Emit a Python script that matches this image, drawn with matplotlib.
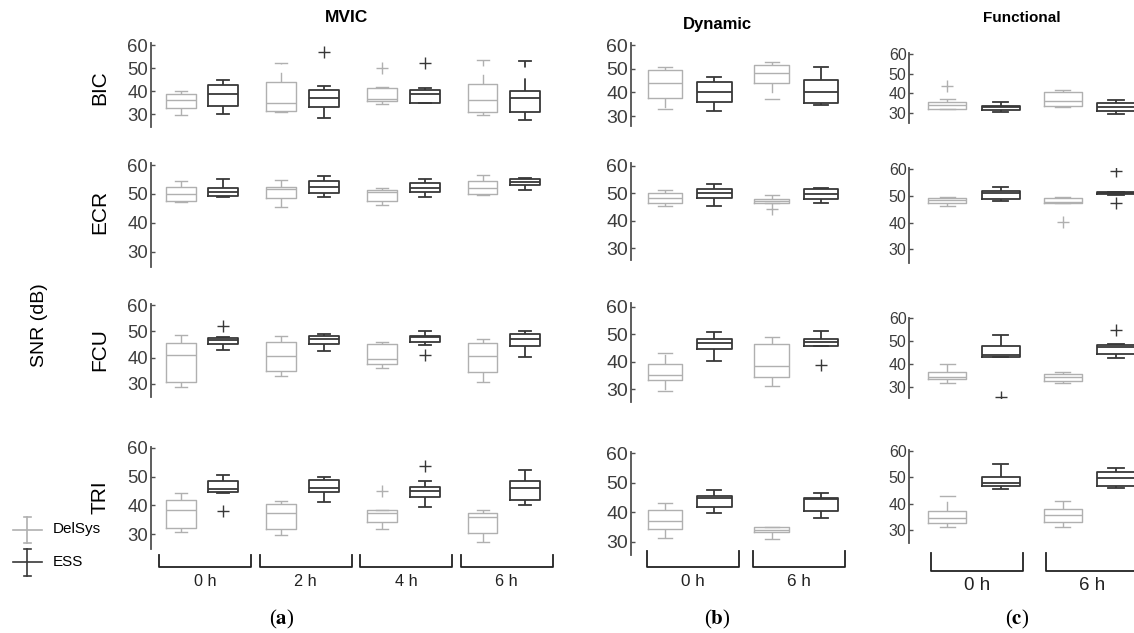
import matplotlib
matplotlib.use("Agg")
import matplotlib.pyplot as plt
from matplotlib.lines import Line2D
from matplotlib.transforms import blended_transform_factory

W, H, DPI = 1134, 633, 100
plt.rcParams['font.family'] = ['Liberation Sans', 'DejaVu Sans']
plt.rcParams['mathtext.fontset'] = 'stix'

# ---------------- data ----------------
muscles = ["BIC", "ECR", "FCU", "TRI"]
devices = ["DelSys", "ESS"]
mvic_times = ["0 h", "2 h", "4 h", "6 h"]
dyn_times = ["0 h", "6 h"]
fun_times = ["0 h", "6 h"]
column_titles = ["MVIC", "Dynamic", "Functional"]
panel_tags = ["a", "b", "c"]
yticks = [30, 40, 50, 60]
ylabel = "SNR (dB)"

# each box: (lower whisker, Q1, median, Q3, upper whisker, [outliers]); one box per time point
mvic_bic_delsys = [(29.9, 32.6, 36.4, 38.6, 40.0, []), (30.9, 31.6, 35.0, 43.9, 52.4, []),
                   (34.4, 35.7, 36.6, 41.4, 41.7, [50.2]), (29.9, 30.8, 36.1, 43.3, 53.4, [])]
mvic_bic_ess = [(30.3, 33.7, 39.0, 42.5, 44.8, []), (28.3, 33.2, 37.1, 40.4, 42.3, [57.0]),
                (34.7, 34.7, 38.6, 40.4, 41.4, [52.4]), (27.5, 30.8, 37.1, 40.2, 53.1, [])]
mvic_ecr_delsys = [(47.3, 47.7, 50.0, 52.3, 54.6, []), (45.4, 48.5, 51.7, 52.3, 54.7, []),
                   (46.2, 47.7, 50.5, 51.2, 52.0, []), (49.7, 49.9, 52.0, 54.6, 56.7, [])]
mvic_ecr_ess = [(49.0, 49.3, 50.6, 52.0, 55.1, []), (48.8, 50.2, 52.5, 54.6, 56.2, []),
                (48.8, 50.5, 52.0, 53.9, 55.1, []), (51.5, 53.0, 54.0, 55.0, 55.6, [])]
mvic_fcu_delsys = [(28.7, 30.6, 41.1, 45.7, 48.7, []), (33.0, 35.1, 40.8, 46.1, 48.4, []),
                   (36.1, 37.7, 39.4, 45.3, 45.9, []), (30.6, 34.7, 40.8, 45.6, 47.1, [])]
mvic_fcu_ess = [(43.0, 45.2, 46.8, 47.5, 47.7, [51.9]), (42.7, 45.2, 47.2, 48.4, 49.0, []),
                (44.8, 46.1, 48.0, 48.4, 50.3, [41.1]), (40.3, 44.6, 47.1, 48.8, 50.0, [])]
mvic_tri_delsys = [(30.9, 32.1, 38.4, 41.9, 44.2, []), (29.8, 31.9, 37.3, 40.4, 41.5, []),
                   (31.9, 34.2, 37.3, 38.4, 38.4, [45.1]), (27.2, 30.6, 36.1, 37.3, 38.4, [])]
mvic_tri_ess = [(44.2, 44.5, 45.7, 48.5, 50.4, [37.9]), (41.1, 44.5, 46.2, 48.8, 50.0, []),
                (39.6, 43.0, 45.0, 46.5, 48.5, [53.7]), (40.0, 42.0, 46.0, 48.5, 52.4, [])]

dyn_bic_delsys = [(33.0, 37.5, 44.1, 49.4, 50.6, []), (37.0, 44.1, 48.0, 51.5, 53.0, [])]
dyn_bic_ess = [(32.1, 36.1, 40.1, 44.5, 46.5, []), (34.5, 35.5, 40.1, 45.2, 50.9, [])]
dyn_ecr_delsys = [(45.5, 46.4, 48.2, 50.0, 51.3, []), (46.4, 46.4, 47.2, 47.8, 49.5, [44.2])]
dyn_ecr_ess = [(45.5, 48.2, 50.0, 51.7, 53.4, []), (46.4, 48.1, 49.9, 51.6, 52.0, [])]
dyn_fcu_delsys = [(29.5, 33.4, 35.2, 39.1, 43.1, []), (31.2, 34.4, 38.5, 46.5, 48.9, [])]
dyn_fcu_ess = [(40.3, 44.5, 46.9, 48.1, 50.9, []), (45.8, 45.8, 47.3, 48.4, 51.0, [38.8])]
dyn_tri_delsys = [(31.2, 34.4, 37.0, 40.7, 43.2, []), (30.8, 33.2, 34.0, 34.9, 35.1, [])]
dyn_tri_ess = [(39.6, 41.9, 44.7, 45.6, 47.5, []), (37.9, 40.5, 44.5, 44.7, 46.4, [])]

fun_bic_delsys = [(31.9, 31.9, 33.9, 35.6, 36.8, [43.6]), (32.7, 33.4, 36.0, 40.8, 41.6, [])]
fun_bic_ess = [(30.5, 31.4, 32.7, 33.6, 35.6, []), (29.3, 30.9, 32.7, 34.8, 36.5, [])]
fun_ecr_delsys = [(46.25, 47.25, 48.5, 49.4, 49.75, []), (47.25, 47.25, 47.9, 49.1, 49.75, [40.4])]
fun_ecr_ess = [(48.25, 48.75, 51.0, 52.0, 53.5, []), (50.4, 50.75, 51.0, 51.6, 51.6, [59.5, 47.25])]
fun_fcu_delsys = [(32.0, 33.5, 34.6, 36.5, 40.1, []), (32.0, 32.8, 34.3, 35.8, 36.8, [])]
fun_fcu_ess = [(43.0, 43.0, 44.1, 48.1, 52.8, [25.9]), (42.6, 44.5, 47.4, 48.4, 48.8, [54.9])]
fun_tri_delsys = [(31.0, 32.8, 34.4, 37.3, 43.0, []), (31.0, 33.1, 35.7, 37.9, 41.1, [])]
fun_tri_ess = [(45.4, 46.6, 47.9, 50.2, 54.8, []), (45.8, 46.6, 49.5, 51.8, 53.6, [])]

mvic_data = [(mvic_bic_delsys, mvic_bic_ess), (mvic_ecr_delsys, mvic_ecr_ess),
             (mvic_fcu_delsys, mvic_fcu_ess), (mvic_tri_delsys, mvic_tri_ess)]
dyn_data = [(dyn_bic_delsys, dyn_bic_ess), (dyn_ecr_delsys, dyn_ecr_ess),
            (dyn_fcu_delsys, dyn_fcu_ess), (dyn_tri_delsys, dyn_tri_ess)]
fun_data = [(fun_bic_delsys, fun_bic_ess), (fun_ecr_delsys, fun_ecr_ess),
            (fun_fcu_delsys, fun_fcu_ess), (fun_tri_delsys, fun_tri_ess)]

# ---------------- layout (pixels) ----------------
# per column: spine x, first group center, group spacing, pair offset, box width, right edge
col_layout = [
    dict(spine=150.7, g0=202.0, step=100.6, off=21.3, bw=30.0, right=560, tick_fs=13.3,
         brk=(555, 567), lab_y=582, lab_fs=11.7, tag_x=282, title_x=346, title_y=18, title_fs=12.5),
    dict(spine=631.0, g0=689.7, step=106.7, off=24.6, bw=34.7, right=860, tick_fs=14.0,
         brk=(551, 567), lab_y=582, lab_fs=12.3, tag_x=717, title_x=717, title_y=25, title_fs=12),
    dict(spine=909.3, g0=974.0, step=115.2, off=26.7, bw=38.0, right=1134, tick_fs=11.5,
         brk=(553, 571), lab_y=585, lab_fs=13.5, tag_x=1017, title_x=1022, title_y=18, title_fs=11),
]
# per column, per row: (spine top, spine bottom, y of 60, y of 30)
row_layout = [
    [(43.3, 126.7, 45.0, 114.3), (163.3, 266.7, 165.0, 251.7), (304.0, 397.3, 305.0, 384.0), (446.7, 549.3, 447.7, 534.3)],
    [(43.3, 126.0, 45.0, 116.0), (163.3, 260.0, 166.0, 248.3), (303.3, 401.7, 306.7, 389.3), (451.7, 555.0, 453.3, 541.7)],
    [(52.7, 122.7, 54.0, 112.7), (168.0, 262.7, 169.3, 249.3), (318.0, 398.0, 318.3, 387.3), (450.0, 543.0, 450.7, 530.0)],
]
row_label_y = [88, 212, 350, 497]

C_DEL = "#b0b0b0"
C_ESS = "#383838"
C_AX = "#505050"

fig = plt.figure(figsize=(W / DPI, H / DPI), dpi=DPI)


def fx(px):
    return px / W


def fy(py):
    return 1 - py / H


def stats_of(boxes):
    return [dict(whislo=b[0], q1=b[1], med=b[2], q3=b[3], whishi=b[4], fliers=b[5]) for b in boxes]


def draw_boxes(ax, boxes, positions, width, color, lw):
    ax.bxp(stats_of(boxes), positions=positions, widths=width, capwidths=width * 0.4,
           manage_ticks=False,
           boxprops=dict(color=color, lw=lw),
           whiskerprops=dict(color=color, lw=lw, linestyle=(0, (7, 6))),
           capprops=dict(color=color, lw=lw),
           medianprops=dict(color=color, lw=lw),
           flierprops=dict(marker='+', markeredgecolor=color, markersize=8,
                           markeredgewidth=1.0, linestyle='none'))


columns = [(mvic_data, mvic_times), (dyn_data, dyn_times), (fun_data, fun_times)]

for ci, (data, times) in enumerate(columns):
    cl = col_layout[ci]
    ng = len(times)
    xlo = (cl['spine'] - cl['g0']) / cl['step']
    xhi = (cl['right'] - cl['g0']) / cl['step']
    off = cl['off'] / cl['step']
    bw = cl['bw'] / cl['step']
    groups = list(range(ng))
    last_ax = None
    for ri, (del_boxes, ess_boxes) in enumerate(data):
        top, bot, y60, y30 = row_layout[ci][ri]
        ppu = (y30 - y60) / 30.0
        ymax = 60 + (y60 - top) / ppu
        ymin = 30 - (bot - y30) / ppu
        ax = fig.add_axes([fx(cl['spine']), fy(bot), fx(cl['right'] - cl['spine']), (bot - top) / H])
        ax.set_xlim(xlo, xhi)
        ax.set_ylim(ymin, ymax)
        draw_boxes(ax, del_boxes, [g - off for g in groups], bw, C_DEL, 1.0)
        draw_boxes(ax, ess_boxes, [g + off for g in groups], bw, C_ESS, 1.3)
        for s in ['top', 'right', 'bottom']:
            ax.spines[s].set_visible(False)
        ax.spines['left'].set_color(C_AX)
        ax.spines['left'].set_linewidth(1.3)
        ax.set_xticks([])
        ax.set_yticks(yticks)
        ax.tick_params(axis='y', direction='in', length=3, width=1.0, color=C_AX,
                       labelcolor="#3c3c3c", labelsize=cl['tick_fs'], pad=2)
        ax.patch.set_visible(False)
        last_ax = ax

    # brackets under the groups
    trans = blended_transform_factory(last_ax.transData, fig.transFigure)
    half = 46.0 / cl['step']
    y_top, y_bot = cl['brk']
    for g, lab in zip(groups, times):
        gc = g + 3.0 / cl['step']
        fig.add_artist(Line2D([gc - half, gc - half, gc + half, gc + half],
                              [fy(y_top), fy(y_bot), fy(y_bot), fy(y_top)],
                              transform=trans, color="#222222", lw=1.3))
        fig.text(gc, fy(cl['lab_y']), lab, transform=trans, ha='center', va='center',
                 fontsize=cl['lab_fs'], color="#222222")

    # column title and panel tag
    fig.text(fx(cl['title_x']), fy(cl['title_y']), column_titles[ci], ha='center', va='center',
             fontsize=cl['title_fs'], fontweight='bold', color='black')
    fig.text(fx(cl['tag_x']), fy(619), r'($\mathbf{%s}$)' % panel_tags[ci], ha='center', va='center',
             fontsize=15, family=['Liberation Serif', 'DejaVu Serif'], color='black')

# row labels and y label
for ri, m in enumerate(muscles):
    fig.text(fx(100), fy(row_label_y[ri]), m, rotation=90, ha='center', va='center',
             fontsize=15, color='black')
fig.text(fx(40), fy(325), ylabel, rotation=90, ha='center', va='center', fontsize=14, color='black')

# legend
legend_items = [(devices[0], C_DEL, 529.5, 517, 543), (devices[1], C_ESS, 562, 549, 576)]
for name, col, yc, ytop, ybot in legend_items:
    fig.add_artist(Line2D([fx(12.7), fx(41.7)], [fy(yc), fy(yc)], color=col, lw=1.2))
    fig.add_artist(Line2D([fx(27), fx(27)], [fy(ytop), fy(ybot)], color=col, lw=1.2))
    for yy in (ytop, ybot):
        fig.add_artist(Line2D([fx(23.5), fx(30.5)], [fy(yy), fy(yy)], color=col, lw=1.2))
    fig.text(fx(53), fy(yc), name, ha='left', va='center', fontsize=11, color='black')

fig.savefig("out.png", dpi=DPI)
